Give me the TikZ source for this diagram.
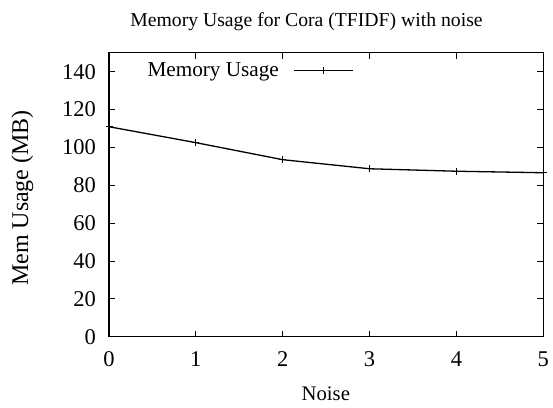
\documentclass[tikz,border=0pt]{standalone}
\usepackage{fontspec}
\setmainfont{Liberation Serif}
\begin{document}
\begin{tikzpicture}[x=1pt,y=-1pt,
  axisline/.style={line width=1.2pt},
  tickline/.style={line width=0.9pt},
  dataline/.style={line width=1.3pt,line join=round},
  markline/.style={line width=1.1pt},
  ticklabel/.style={inner sep=0pt,font=\fontsize{22.5}{24}\selectfont},
  plainlabel/.style={inner sep=0pt}]
\useasboundingbox (0,0) rectangle (553,407);
\def\xl{109}\def\xr{543.3}\def\yb{336.7}\def\yt{52.7}
% ticks
\foreach \v in {0,20,...,140}{
  \pgfmathsetmacro\Y{\yb-1.8933*\v}
  \draw[tickline] (\xl,\Y) -- ++(6,0);
  \draw[tickline] (\xr,\Y) -- ++(-6,0);
  \node[ticklabel,anchor=east] (yt\v) at (96,\Y) {\v};
}
\foreach \u in {0,...,5}{
  \pgfmathsetmacro\X{\xl+86.86*\u}
  \draw[tickline] (\X,\yb) -- ++(0,-6);
  \draw[tickline] (\X,\yt) -- ++(0,6);
  \node[ticklabel,anchor=base] (xt\u) at (\X,366) {\u};
}
% frame
\draw[axisline] (\xl,\yt) rectangle (\xr,\yb);
% data
\foreach \i/\u/\v in {0/0/110.9,1/1/102.5,2/2/93.5,3/3/88.7,4/4/87.4,5/5/86.6}{
  \coordinate (p\i) at ({\xl+86.86*\u},{\yb-1.8933*\v});
}
\draw[dataline] (p0) -- (p1) -- (p2) -- (p3) -- (p4) -- (p5);
\foreach \i in {0,...,5}{
  \draw[markline] ([xshift=-3.5pt]p\i) -- ([xshift=3.5pt]p\i);
  \draw[markline] ([yshift=-3.5pt]p\i) -- ([yshift=3.5pt]p\i);
}
% legend
\node[plainlabel,anchor=base east,font=\fontsize{21.2}{24}\selectfont] (legtext) at (279,76.7) {Memory Usage};
\coordinate (la) at (294,70.5);
\coordinate (lb) at (353,70.5);
\coordinate (lm) at (323.5,70.5);
\draw[dataline] (la) -- (lb);
\draw[markline] ([xshift=-3.5pt]lm) -- ([xshift=3.5pt]lm);
\draw[markline] ([yshift=-3.5pt]lm) -- ([yshift=3.5pt]lm);
% labels
\node[plainlabel,anchor=base,font=\fontsize{19.7}{22}\selectfont] (title) at (306.5,26.5) {Memory Usage for Cora (TFIDF) with noise};
\node[plainlabel,anchor=base,font=\fontsize{20.7}{24}\selectfont] (xlabel) at (325.8,400) {Noise};
\node[plainlabel,rotate=90,anchor=base,font=\fontsize{24}{26}\selectfont] (ylabel) at (28,198) {Mem Usage (MB)};
\end{tikzpicture}
\end{document}
